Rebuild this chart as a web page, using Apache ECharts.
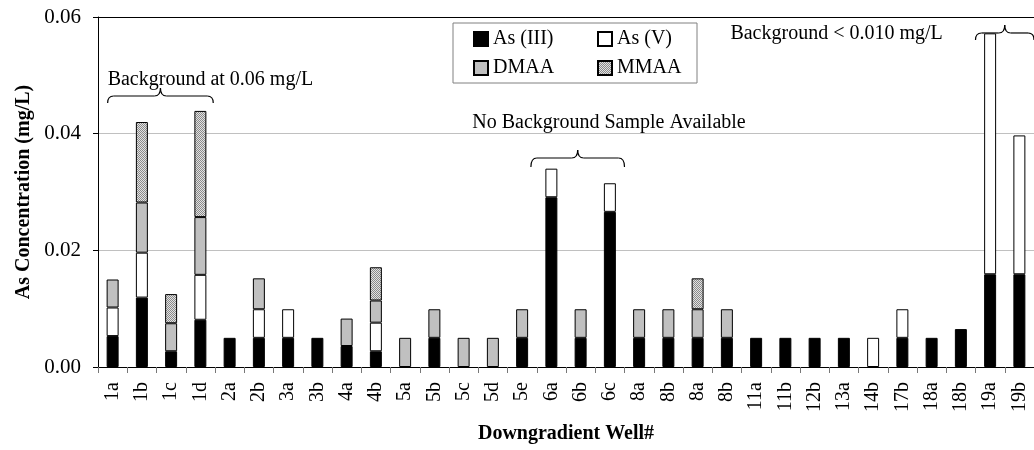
<!DOCTYPE html>
<html>
<head>
<meta charset="utf-8">
<script src="https://cdn.jsdelivr.net/npm/echarts@6/dist/echarts.min.js"></script>
<style>
html,body{margin:0;padding:0;background:#fff;}
#chart{width:1034px;height:450px;}
</style>
</head>
<body>
<div id="chart"></div>
<script>
const wells = ['1a','1b','1c','1d','2a','2b','3a','3b','4a','4b','5a','5b','5c','5d','5e','6a','6b','6c','8a','8b','8a','8b','11a','11b','12b','13a','14b','17b','18a','18b','19a','19b'];
const asIII = [0.0053,0.0119,0.0027,0.0081,0.0050,0.0050,0.0050,0.0050,0.0036,0.0027,0,0.0050,0,0,0.0050,0.0291,0.0050,0.0266,0.0050,0.0050,0.0050,0.0050,0.0050,0.0050,0.0050,0.0050,0,0.0050,0.0050,0.0065,0.0159,0.0159];
const asV   = [0.0049,0.0077,0,0.0077,0,0.0049,0.0049,0,0,0.0049,0,0,0,0,0,0.0049,0,0.0049,0,0,0,0,0,0,0,0,0.0050,0.0049,0,0,0.0413,0.0238];
const dmaa  = [0.0048,0.0086,0.0048,0.0099,0,0.0053,0,0,0.0047,0.0038,0.0050,0.0049,0.0050,0.0050,0.0049,0,0.0049,0,0.0049,0.0049,0.0049,0.0049,0,0,0,0,0,0,0,0,0,0];
const mmaa  = [0,0.0138,0.0050,0.0182,0,0,0,0,0,0.0057,0,0,0,0,0,0,0,0,0,0,0.0053,0,0,0,0,0,0,0,0,0,0,0];
const yTicks = [0, 0.02, 0.04, 0.06];

const FONT = "'Liberation Serif','Times New Roman',serif";

// hatched pattern for MMAA
const pc = document.createElement('canvas');
pc.width = 2; pc.height = 2;
const pctx = pc.getContext('2d');
pctx.fillStyle = '#e2e2e2'; pctx.fillRect(0,0,2,2);
pctx.fillStyle = '#8a8a8a'; pctx.fillRect(0,0,1,1); pctx.fillRect(1,1,1,1);

const clean = a => a.map(v => v === 0 ? '-' : v);
function mk(name, data, color) {
  return {
    name, type: 'bar', stack: 'as', data: clean(data), barWidth: '41%',
    itemStyle: { color, borderColor: '#000', borderWidth: 1 },
    emphasis: { disabled: true }
  };
}

const chart = echarts.init(document.getElementById('chart'), null, { renderer: 'canvas' });
chart.setOption({
  animation: false,
  textStyle: { fontFamily: FONT },
  grid: { left: 98, right: -7, top: 17, bottom: 83, containLabel: false },
  legend: {
    left: 473, top: 29, width: 245, padding: 0,
    itemWidth: 14, itemHeight: 14, itemGap: 9,
    icon: 'rect',
    textStyle: { fontFamily: FONT, fontSize: 20, color: '#000', width: 95, lineHeight: 20 },
    data: ['As (III)', 'As (V)', 'DMAA', 'MMAA']
  },
  xAxis: [{
    type: 'category', data: wells,
    axisLine: { lineStyle: { color: '#000', width: 1 } },
    axisTick: { show: true, length: 6, lineStyle: { color: '#777' } },
    axisLabel: { rotate: 90, fontSize: 20, color: '#000', margin: 15, fontFamily: FONT, interval: 0 },
    name: 'Downgradient Well#', nameLocation: 'middle', nameGap: 57,
    nameTextStyle: { fontFamily: FONT, fontSize: 20, fontWeight: 'bold', color: '#000' }
  }, {
    type: 'category', data: wells, position: 'top',
    axisLine: { show: true, lineStyle: { color: '#000', width: 1 } },
    axisTick: { show: false }, axisLabel: { show: false }
  }],
  yAxis: {
    type: 'value', min: yTicks[0], max: yTicks[yTicks.length - 1], interval: 0.02,
    axisLine: { show: true, lineStyle: { color: '#000', width: 1 } },
    axisTick: { show: true, length: 5, lineStyle: { color: '#000' } },
    axisLabel: { fontSize: 21, color: '#000', margin: 17, fontFamily: FONT, formatter: v => v.toFixed(2) },
    splitLine: { show: true, showMaxLine: false, lineStyle: { color: '#c0c0c0', width: 1 } },
    name: 'As Concentration (mg/L)', nameLocation: 'middle', nameGap: 62,
    nameTextStyle: { fontFamily: FONT, fontSize: 20, fontWeight: 'bold', color: '#000' }
  },
  series: [
    mk('As (III)', asIII, '#000000'),
    mk('As (V)', asV, '#ffffff'),
    mk('DMAA', dmaa, '#c0c0c0'),
    mk('MMAA', mmaa, { image: pc, repeat: 'repeat' })
  ]
});

// annotations: braces and texts, positioned from the axes
function P(idx, val) { return chart.convertToPixel({ gridIndex: 0 }, [idx, val]); }
const w = P(1, 0)[0] - P(0, 0)[0];
const LS = { stroke: '#000', lineWidth: 1.2, fill: null };
function q(x1, y1, cx, cy, x2, y2) {
  return { type: 'bezierCurve', silent: true, shape: { x1, y1, x2, y2, cpx1: cx, cpy1: cy }, style: LS };
}
function ln(x1, y1, x2, y2) {
  return { type: 'line', silent: true, shape: { x1, y1, x2, y2 }, style: LS };
}
function brace(x1, x2, xp, yEnd, yFlat, yPeak) {
  const r = 6;
  return [
    q(x1, yEnd, x1, yFlat, x1 + r, yFlat),
    ln(x1 + r, yFlat, xp - r, yFlat),
    q(xp - r, yFlat, xp, yFlat, xp, yPeak),
    q(xp, yPeak, xp, yFlat, xp + r, yFlat),
    ln(xp + r, yFlat, x2 - r, yFlat),
    q(x2 - r, yFlat, x2, yFlat, x2, yEnd)
  ];
}
const Y = v => P(0, v)[1];
const b1x1 = P(0, 0)[0] - 0.17 * w, b1x2 = P(3, 0)[0] + 0.44 * w;
const b2x1 = P(15, 0)[0] - 0.7 * w, b2x2 = P(17, 0)[0] + 0.5 * w;
const b3x1 = P(30, 0)[0] - 0.5 * w, b3xp = P(30, 0)[0] + 0.5 * w, b3x2 = b3xp + (b3xp - b3x1);
const txt = (t, x, y, align) => ({
  type: 'text', silent: true, x, y,
  style: { text: t, font: `20px ${FONT}`, fill: '#000', align: align || 'center', verticalAlign: 'middle' }
});
chart.setOption({
  graphic: [].concat(
    brace(b1x1, b1x2, (b1x1 + b1x2) / 2, Y(0.04526), Y(0.04646), Y(0.04783)),
    [txt('Background at 0.06 mg/L', b1x1, Y(0.0492), 'left')],
    brace(b2x1, b2x2, (b2x1 + b2x2) / 2, Y(0.03429), Y(0.03583), Y(0.0372)),
    [txt('No Background Sample Available', P(17, 0)[0] - 0.03 * w, Y(0.0418))],
    brace(b3x1, b3x2, b3xp, Y(0.05606), Y(0.05726), Y(0.05863)),
    [txt('Background < 0.010 mg/L', P(25, 0)[0] - 0.25 * w, Y(0.0571))],
    [{ type: 'rect', silent: true, shape: { x: 453, y: 23, width: 244, height: 60 },
      style: { fill: null, stroke: '#808080', lineWidth: 1 } }]
  )
});
</script>
</body>
</html>
